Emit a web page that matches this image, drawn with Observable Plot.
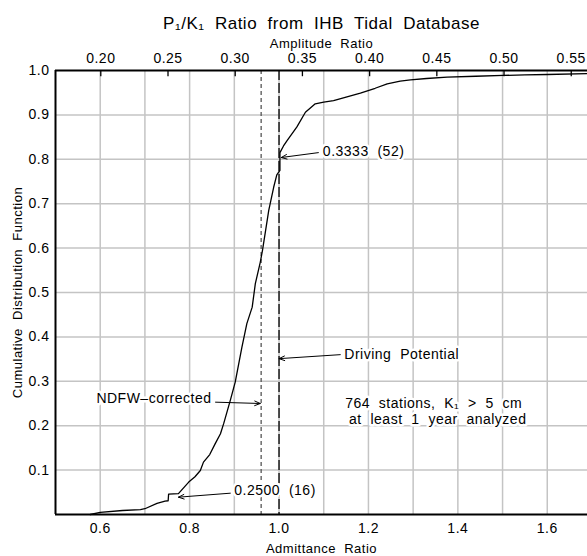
<!DOCTYPE html>
<html><head><meta charset="utf-8">
<script src="https://cdn.jsdelivr.net/npm/d3@7"></script>
<script src="https://cdn.jsdelivr.net/npm/@observablehq/plot@0.6"></script>
<style>body{margin:0;background:#fff} svg{display:block}</style>
</head><body><div id="chart"></div>
<script>
// Cumulative distribution of P1/K1 admittance ratio (764 stations)
const admittance = [0.578, 0.600, 0.650, 0.690, 0.700, 0.727, 0.745, 0.752, 0.753, 0.775, 0.798, 0.812, 0.824, 0.831, 0.845, 0.857, 0.869, 0.876, 0.891, 0.902, 0.917, 0.928, 0.940, 0.947, 0.958, 0.963, 0.977, 0.988, 0.995, 1.002, 1.002, 1.010, 1.018, 1.040, 1.059, 1.081, 1.100, 1.122, 1.150, 1.182, 1.215, 1.242, 1.271, 1.294, 1.330, 1.376, 1.440, 1.502, 1.550, 1.600, 1.690];
const cdf = [0, 0.005, 0.009, 0.011, 0.013, 0.025, 0.030, 0.031, 0.046, 0.047, 0.073, 0.085, 0.099, 0.118, 0.135, 0.159, 0.182, 0.204, 0.257, 0.298, 0.377, 0.430, 0.467, 0.520, 0.568, 0.595, 0.685, 0.737, 0.765, 0.775, 0.815, 0.830, 0.842, 0.873, 0.906, 0.925, 0.929, 0.932, 0.940, 0.949, 0.960, 0.970, 0.976, 0.979, 0.982, 0.985, 0.987, 0.989, 0.990, 0.991, 0.993];

const xTickLabels = [0.6, 0.8, 1.0, 1.2, 1.4, 1.6];
const xGridValues = [0.6, 0.7, 0.8, 0.9, 1.0, 1.1, 1.2, 1.3, 1.4, 1.5, 1.6];
const yTickLabels = [0.1, 0.2, 0.3, 0.4, 0.5, 0.6, 0.7, 0.8, 0.9, 1.0];
const yGridValues = [0.1, 0.2, 0.3, 0.4, 0.5, 0.6, 0.7, 0.8, 0.9];
const amplitudeTicks = [0.20, 0.25, 0.30, 0.35, 0.40, 0.45, 0.50, 0.55];
const amplitudePerAdmittance = 0.3326;
const ndfwCorrected = [0.96];
const drivingPotential = [1.0];

const notes = [
  {text: "0.3333  (52)", x: 1.098, y: 0.818, x1: 1.088, y1: 0.815, x2: 1.005, y2: 0.804, anchor: "start"},
  {text: "Driving  Potential", x: 1.146, y: 0.360, x1: 1.137, y1: 0.360, x2: 1.0, y2: 0.351, anchor: "start"},
  {text: "NDFW–corrected", x: 0.849, y: 0.261, x1: 0.858, y1: 0.253, x2: 0.958, y2: 0.250, anchor: "end"},
  {text: "0.2500  (16)", x: 0.900, y: 0.054, x1: 0.891, y1: 0.048, x2: 0.775, y2: 0.039, anchor: "start"}
];
const infoLines = ["764  stations,  K₁  >  5  cm", "at  least  1  year  analyzed"];
const infoX = [1.346, 1.355];
const infoY = [0.250, 0.214];

const curve = admittance.map((x, i) => ({x, y: cdf[i]}));
const font = "'Liberation Sans', Arial, sans-serif";
const gridStyle = {stroke: "#c4c4c4", strokeOpacity: 1, strokeWidth: 1.5};
const halo = {stroke: "white", strokeWidth: 5, paintOrder: "stroke", fill: "black", lineAnchor: "middle"};

const chart = Plot.plot({
  width: 587, height: 556,
  marginTop: 70, marginBottom: 42, marginLeft: 55, marginRight: 0,
  style: {fontFamily: font, fontSize: "14px", color: "#000", background: "#fff", letterSpacing: "0.5px"},
  x: {domain: [0.5, 1.69]},
  y: {domain: [0, 1]},
  marks: [
    Plot.gridX(xGridValues, gridStyle),
    Plot.gridY(yGridValues, gridStyle),
    Plot.ruleX(ndfwCorrected, {stroke: "#555", strokeDasharray: "4,3", strokeWidth: 1.3}),
    Plot.ruleX(drivingPotential, {stroke: "#000", strokeDasharray: "10,3", strokeWidth: 1.3}),
    Plot.line(curve, {x: "x", y: "y", stroke: "#000", strokeWidth: 1.3}),
    Plot.ruleY([0], {strokeWidth: 2}),
    Plot.ruleY([1], {strokeWidth: 2}),
    Plot.ruleX([0.5], {strokeWidth: 2}),
    Plot.ruleX(amplitudeTicks, {x: a => a / amplitudePerAdmittance, y1: 1, y2: 0.986, strokeWidth: 1.3}),
    Plot.axisX(xTickLabels, {anchor: "bottom", tickSize: 0, tickPadding: 9, tickFormat: d => d.toFixed(1), label: null, fontSize: 14}),
    Plot.axisY(yTickLabels, {anchor: "left", tickSize: 0, tickPadding: 6, tickFormat: d => d.toFixed(1), label: null, fontSize: 14}),
    Plot.axisX(amplitudeTicks.map(a => a / amplitudePerAdmittance), {anchor: "top", tickSize: 0, tickPadding: 8, tickFormat: d => (d * amplitudePerAdmittance).toFixed(2), label: null, fontSize: 14}),
    Plot.arrow(notes, {x1: "x1", y1: "y1", x2: "x2", y2: "y2", bend: 0, headLength: 9, headAngle: 45, strokeWidth: 1, stroke: "#000"}),
    Plot.text(notes.filter(d => d.anchor === "start"), {x: "x", y: "y", text: "text", textAnchor: "start", fontSize: 14, ...halo}),
    Plot.text(notes.filter(d => d.anchor === "end"), {x: "x", y: "y", text: "text", textAnchor: "end", fontSize: 14, ...halo}),
    Plot.text(infoLines, {x: infoX, y: infoY, text: d => d, textAnchor: "middle", fontSize: 14, ...halo}),
    Plot.text(["P₁/K₁  Ratio  from  IHB  Tidal  Database"], {frameAnchor: "top", lineAnchor: "middle", textAnchor: "middle", dy: -47, fontSize: 17, text: d => d}),
    Plot.text(["Amplitude  Ratio"], {frameAnchor: "top", lineAnchor: "middle", textAnchor: "middle", dy: -27, fontSize: 13, text: d => d}),
    Plot.text(["Admittance  Ratio"], {frameAnchor: "bottom", lineAnchor: "middle", textAnchor: "middle", dy: 34, fontSize: 13, text: d => d}),
    Plot.text(["Cumulative  Distribution  Function"], {frameAnchor: "left", lineAnchor: "middle", textAnchor: "middle", dx: -38, rotate: -90, fontSize: 13, text: d => d})
  ]
});
document.getElementById("chart").append(chart);
</script>
</body></html>
